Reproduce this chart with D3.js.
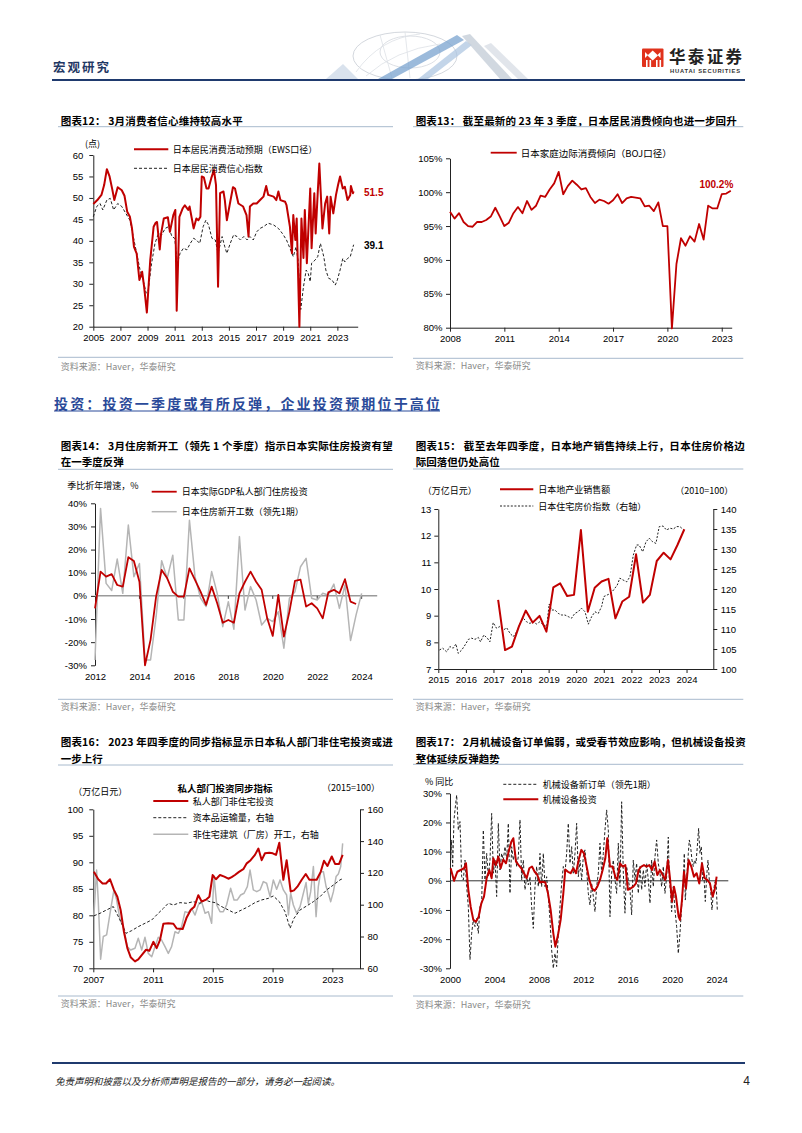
<!DOCTYPE html>
<html><head><meta charset="utf-8">
<script src="https://cdn.jsdelivr.net/npm/d3@7"></script>
<style>body{margin:0;background:#fff}svg{display:block}</style>
</head><body><svg id="page" width="802" height="1133"></svg>
<script>
// ---------------- DATA ----------------
// Chart 12: consumer confidence (monthly-ish samples) [year, value]
const ewsSeries = [[2005.0,48.6],[2005.3,49.5],[2005.6,50.7],[2005.8,53],[2006.0,56.7],[2006.2,55],[2006.4,52],[2006.55,49.5],[2006.8,52.5],[2007.1,51.8],[2007.3,50.5],[2007.5,46.8],[2007.7,45.6],[2007.85,43],[2008.0,38.6],[2008.2,37],[2008.4,30.9],[2008.6,32.8],[2008.75,29.3],[2008.95,23.3],[2009.2,35.5],[2009.45,43.3],[2009.6,44.2],[2009.7,44.4],[2009.9,38],[2010.0,41.7],[2010.2,45.2],[2010.5,45.5],[2010.65,42.1],[2010.9,46],[2011.05,47.2],[2011.15,23.7],[2011.35,45.6],[2011.6,47.6],[2011.75,48.3],[2012.0,47.2],[2012.1,48],[2012.4,42.9],[2012.6,45.2],[2012.75,44.8],[2012.9,45.6],[2013.0,55],[2013.15,54.8],[2013.35,52.2],[2013.5,52.2],[2013.7,54.6],[2013.9,56.5],[2014.05,53],[2014.2,29.3],[2014.35,51.1],[2014.6,51.5],[2014.7,49.5],[2014.85,44.8],[2015.1,49.1],[2015.3,52.5],[2015.45,52.2],[2015.7,48.7],[2016.05,48],[2016.3,46],[2016.45,41],[2016.55,48],[2016.8,48.7],[2017.05,48.7],[2017.3,49.5],[2017.55,50.3],[2017.75,52.8],[2017.9,50.7],[2018.3,50.3],[2018.5,49.5],[2018.65,51.5],[2018.8,49.5],[2019.15,49.1],[2019.25,48.3],[2019.5,43.3],[2019.65,37.1],[2019.75,46],[2019.9,40.2],[2020.0,45.2],[2020.2,20],[2020.35,45.2],[2020.5,36],[2020.6,47.2],[2020.75,34.8],[2021.0,52.2],[2021.1,38.3],[2021.3,51.1],[2021.4,41.7],[2021.55,51.1],[2021.67,58],[2021.9,42.9],[2022.1,48.7],[2022.25,50.3],[2022.4,41.7],[2022.5,50.3],[2022.7,46.4],[2022.9,50.7],[2023.05,53],[2023.2,55],[2023.4,52.2],[2023.55,52.6],[2023.75,49.5],[2023.95,50.7],[2024.0,52.8],[2024.15,51.1],[2024.2,51.5]];
const confSeries = [[2005.0,45.6],[2005.25,48],[2005.5,48.7],[2005.7,47.2],[2006.0,49.5],[2006.25,49.9],[2006.5,47.2],[2006.8,48.7],[2007.1,48],[2007.4,46.4],[2007.7,44.8],[2008.0,40.2],[2008.25,36.3],[2008.45,33.2],[2008.7,30.5],[2008.9,27.8],[2009.05,28.5],[2009.3,34.8],[2009.55,39.4],[2009.8,41.7],[2010.05,41.4],[2010.3,42.9],[2010.55,43.3],[2010.8,41],[2011.0,40.6],[2011.2,34.8],[2011.4,37.1],[2011.65,38.3],[2011.9,37.9],[2012.15,39.4],[2012.4,40.6],[2012.6,40.2],[2012.85,39.4],[2013.1,43.3],[2013.3,44.8],[2013.5,43.7],[2013.75,40.6],[2014.0,40.2],[2014.2,37.1],[2014.5,41],[2014.7,38.6],[2014.85,37.1],[2015.1,39.4],[2015.35,41.4],[2015.6,41],[2015.85,40.2],[2016.1,41],[2016.35,40.2],[2016.55,41],[2016.8,40.2],[2017.05,42.1],[2017.3,42.9],[2017.55,43.3],[2017.9,44.1],[2018.3,43.7],[2018.65,42.9],[2018.95,41.7],[2019.25,40.2],[2019.5,38.3],[2019.75,36.3],[2019.95,38.6],[2020.1,35.5],[2020.3,24],[2020.5,29.3],[2020.7,33.2],[2020.85,32.4],[2021.0,30.5],[2021.1,34.8],[2021.35,35.5],[2021.55,36.3],[2021.75,39.4],[2022.0,36.3],[2022.15,33.2],[2022.35,31.3],[2022.6,30.9],[2022.85,29.7],[2023.0,30.9],[2023.2,33.2],[2023.4,35.9],[2023.55,35.1],[2023.75,35.9],[2023.95,36.3],[2024.2,39.1]];
const c12YTicks = [20,25,30,35,40,45,50,55,60];
const c12XTicks = [2005,2007,2009,2011,2013,2015,2017,2019,2021,2023];

// Chart 13: BOJ marginal propensity to consume, quarterly from 2008Q1
const bojStart = 2008;
const bojValues = [97.1,96.1,96.9,95.6, 95.0,94.9,95.6,95.6, 95.9,96.4,97.7,96.4, 95.0,95.5,96.9,97.8, 96.9,98.7,97.4,98.0, 99.5,99.3,100.4,101.3, 103.0,99.7,100.9,101.7, 101.1,100.4,100.6,99.3, 98.4,98.9,98.7,98.3, 98.8,99.7,98.4,99.1, 99.3,99.2,99.1,97.9, 98.0,97.2,98.5,95.0, 95.0,79.9,89.4,93.2, 92.1,93.5,92.7,95.3, 93.0,98.0,97.6,97.6, 99.7,99.8,100.2];
const c13YTicks = [80,85,90,95,100,105];
const c13XTicks = [2008,2011,2014,2017,2020,2023];

// Chart 14: residential investment vs housing starts, quarterly from 2012Q1
const resStart = 2012;
const resInvest = [-5.4,10.5,8.3,9.4, 4.7,4.0,16.7,15.1, 6.1,-30.0,-19.0,-0.3, 11.2,7.6,1.8,-0.3, -0.3,11.9,6.9,1.8, -3.9,4.0,-3.2,-11.6, -10.4,-11.6,1.1,6.1, 10.5,6.1,2.6,-9.7, -17.3,0.4,-17.6,-6.8, 6.5,7.0,-4.6,-3.2, -5.4,-9.7,1.5,2.6, 1.1,7.2,-2.5,-3.5];
const housingStarts = [-27.7,37.8,5.4,2.3, 15.9,1.1,30.6,8.3, 14.0,-27.7,-27.7,-9.0, 15.2,7.6,17.6,-10.4, -10.4,32.7,8.3,-1.0, -4.6,10.5,1.1,-13.3, -2.5,-14.4,25.6,-6.1, 4.0,-1.8,-12.6,-9.7, -11.1,-6.8,-22.6,-1.0, 1.8,12.6,16.2,-1.0, -1.8,1.1,0.4,5.1, -5.4,4.7,-19.3,-8.2, 1.1];
const c14YTicks = [-30,-20,-10,0,10,20,30,40];
const c14XTicks = [2012,2014,2016,2018,2020,2022,2024];

// Chart 15: real estate sales (quarterly from 2017Q1) and house price index
const salesStart = 2017.17;
const salesValues = [9.59,7.71,7.84,8.59, 9.19,8.74,8.99,8.40, 10.06,10.21,9.74,9.78, 12.21,9.15,10.05,10.28, 10.38,8.90,9.53,9.71, 11.30,9.49,9.78,11.05, 11.36,11.11,11.65,12.24];
const hpiSeries = [[2015.04,104.75],[2015.16,105.2],[2015.30,104.3],[2015.42,105.6],[2015.54,105.2],[2015.64,106.25],[2015.72,103.9],[2015.85,104.75],[2015.97,106],[2016.09,107.4],[2016.21,107.7],[2016.33,107.4],[2016.45,107.9],[2016.53,106.8],[2016.65,108.5],[2016.78,107.7],[2016.87,106.8],[2016.99,111.6],[2017.11,110.2],[2017.23,110.6],[2017.36,109.75],[2017.48,110.3],[2017.60,108.9],[2017.72,108.1],[2017.84,109.3],[2017.96,111.4],[2018.08,112.7],[2018.20,111.8],[2018.32,111.4],[2018.44,111.8],[2018.56,111.25],[2018.68,111.8],[2018.81,111],[2018.93,110.6],[2019.02,116.25],[2019.11,114.75],[2019.23,114.75],[2019.35,113.9],[2019.47,113.5],[2019.59,113.5],[2019.71,113.1],[2019.83,112.7],[2019.95,113.9],[2020.07,114.3],[2020.19,115.2],[2020.32,114.3],[2020.44,111.2],[2020.56,113.1],[2020.68,114.3],[2020.80,113.9],[2020.92,115.6],[2021.00,118.1],[2021.12,118.5],[2021.25,118.9],[2021.37,119.9],[2021.49,121],[2021.58,122.7],[2021.70,122.25],[2021.83,121.8],[2021.95,123.1],[2022.07,128.5],[2022.19,131],[2022.28,131],[2022.41,129.3],[2022.53,131.8],[2022.65,132.7],[2022.77,131.8],[2022.89,131.4],[2023.01,135.6],[2023.15,135.75],[2023.27,134.75],[2023.40,135.2],[2023.52,135],[2023.64,135.6],[2023.76,135.6],[2023.90,134.75]];
const c15YLTicks = [7,8,9,10,11,12,13];
const c15YRTicks = [100,105,110,115,120,125,130,135,140];
const c15XTicks = [2015,2016,2017,2018,2019,2020,2021,2022,2023,2024];

// Chart 16: non-residential investment coincident indicators
const nonResInvest = [[2007.04,88.2],[2007.33,86.8],[2007.62,86.0],[2007.85,86.0],[2008.12,86.8],[2008.38,84.8],[2008.61,83.5],[2008.83,81.0],[2009.05,76.9],[2009.28,73.8],[2009.50,72.1],[2009.79,71.3],[2010.01,71.7],[2010.24,72.5],[2010.53,73.5],[2010.75,73.3],[2011.02,75.0],[2011.24,73.8],[2011.46,75.3],[2011.69,78.4],[2012.02,78.5],[2012.36,78.4],[2012.58,77.5],[2012.98,77.4],[2013.25,79.6],[2013.52,81.0],[2013.76,81.6],[2014.03,83.8],[2014.25,82.6],[2014.52,82.9],[2014.77,83.5],[2014.99,87.6],[2015.21,86.8],[2015.48,87.6],[2015.77,87.3],[2016.04,86.9],[2016.26,87.2],[2016.48,87.6],[2016.75,88.2],[2017.04,88.7],[2017.27,89.8],[2017.53,90.4],[2017.82,91.4],[2018.05,92.6],[2018.27,90.4],[2018.49,91.7],[2018.78,91.8],[2019.01,91.7],[2019.23,91.4],[2019.45,93.7],[2019.72,86.7],[2019.94,90.4],[2020.21,84.5],[2020.43,84.7],[2020.66,85.4],[2020.95,86.7],[2021.22,87.8],[2021.46,86.7],[2021.73,86.7],[2021.95,86.7],[2022.22,88.2],[2022.44,90.3],[2022.67,89.3],[2022.96,91.1],[2023.18,89.7],[2023.45,89.7],[2023.69,91.4]];
const capShipments = [[2007.04,93],[2007.45,94.6],[2007.89,96.7],[2008.34,98.8],[2008.79,90.4],[2009.19,82],[2009.57,83.7],[2010.01,86.2],[2010.46,88.3],[2010.91,90.4],[2011.35,94.6],[2011.69,97.7],[2012.02,100.9],[2012.36,99.8],[2012.80,101.3],[2013.25,100.9],[2013.69,101.9],[2014.14,100.9],[2014.48,103],[2014.81,101.9],[2015.15,101.3],[2015.59,98.8],[2016.04,96.7],[2016.48,94.6],[2016.93,96.7],[2017.38,98.8],[2017.82,101.3],[2018.27,103],[2018.72,104],[2019.05,105.5],[2019.45,101.9],[2019.83,95.6],[2020.17,85.2],[2020.43,91.4],[2020.84,96.7],[2021.28,99.2],[2021.73,101.9],[2022.18,105.1],[2022.62,109.3],[2023.07,112.4],[2023.51,115.6],[2023.74,116.6]];
const factoryStarts = [[2007.04,93.4],[2007.22,121.8],[2007.33,103],[2007.49,65.7],[2007.67,80],[2007.89,81],[2008.12,94.6],[2008.38,109.3],[2008.56,103],[2008.79,90.4],[2009.01,86.2],[2009.28,73.6],[2009.50,71.5],[2009.79,72.6],[2010.01,78.9],[2010.24,71.5],[2010.46,79.5],[2010.68,69.4],[2010.91,67.3],[2011.13,73.6],[2011.35,79.5],[2011.57,77.8],[2011.80,73.6],[2012.02,69.4],[2012.24,73.6],[2012.47,83],[2012.69,82],[2012.91,86.2],[2013.14,95.6],[2013.36,95],[2013.58,97.7],[2013.81,93.5],[2014.03,99.8],[2014.25,101.9],[2014.48,94.6],[2014.70,95.6],[2014.92,88.3],[2015.08,118],[2015.26,99.8],[2015.48,95.6],[2015.70,95.6],[2015.92,99.8],[2016.19,110.3],[2016.42,103],[2016.64,103],[2016.86,106.1],[2017.09,107.2],[2017.31,111.4],[2017.49,121.8],[2017.71,109.3],[2017.94,108.2],[2018.16,109.3],[2018.38,114.5],[2018.60,113.5],[2018.83,105.1],[2019.05,115.6],[2019.27,109.7],[2019.50,115.6],[2019.72,109.3],[2019.94,106.1],[2020.06,93.5],[2020.21,107.2],[2020.39,99.8],[2020.61,94.6],[2020.84,98.8],[2021.06,107.2],[2021.24,113.9],[2021.39,100.9],[2021.55,108.2],[2021.73,124],[2021.91,92.5],[2022.06,111.4],[2022.22,120.8],[2022.40,120.8],[2022.58,111.4],[2022.73,107.2],[2022.89,101.9],[2023.07,108.2],[2023.25,117.7],[2023.40,119.3],[2023.56,124],[2023.69,138.6]];
const c16YLTicks = [70,75,80,85,90,95,100];
const c16YRTicks = [60,80,100,120,140,160];
const c16XTicks = [2007,2011,2015,2019,2023];

// Chart 17: machinery orders vs machinery investment (y/y %)
const machInvest = [[2000.06,4.3],[2000.36,0],[2000.66,3.1],[2000.96,3.7],[2001.26,4.3],[2001.44,6.0],[2001.65,-3.1],[2001.86,-8.9],[2002.10,-13.4],[2002.34,-14],[2002.58,-12.3],[2002.82,-7.7],[2003.06,-5.4],[2003.30,0.9],[2003.54,3.7],[2003.75,0.9],[2003.90,7.7],[2004.14,5.4],[2004.35,8.3],[2004.56,4.3],[2004.80,7.3],[2005.04,6.0],[2005.28,10],[2005.52,13.4],[2005.70,14.6],[2005.94,6.6],[2006.18,5.4],[2006.42,4.3],[2006.66,2.6],[2006.90,0.9],[2007.14,4.3],[2007.38,4.9],[2007.62,3.1],[2007.86,2],[2008.10,-0.6],[2008.34,-0.3],[2008.58,-0.6],[2008.82,-4.3],[2009.06,-10],[2009.30,-18],[2009.48,-22.6],[2009.72,-18.6],[2009.96,-13.4],[2010.20,-4.3],[2010.38,3.9],[2010.62,3.1],[2010.86,2.6],[2011.10,4.3],[2011.34,2.6],[2011.58,7.1],[2011.82,10.6],[2012.06,9.4],[2012.30,4.9],[2012.54,0.3],[2012.78,-2.6],[2013.02,-3.4],[2013.26,-2],[2013.50,0.3],[2013.74,3.7],[2013.98,7.7],[2014.16,14.6],[2014.40,4.9],[2014.64,4.9],[2014.88,1.4],[2015.06,0.3],[2015.30,6.0],[2015.54,4.9],[2015.78,5.4],[2016.02,-3.1],[2016.26,-2.6],[2016.50,-2],[2016.74,-0.9],[2016.98,3.7],[2017.22,4.9],[2017.46,5.4],[2017.70,4.9],[2017.94,5.4],[2018.18,3.7],[2018.42,6.6],[2018.66,2],[2018.90,3.7],[2019.14,2],[2019.38,0.3],[2019.62,7.1],[2019.80,0.9],[2019.98,-7.1],[2020.16,-2],[2020.34,-5.4],[2020.58,-12.3],[2020.70,-13.4],[2020.88,-6.6],[2021.06,3.1],[2021.24,-2.6],[2021.48,7.1],[2021.72,4.9],[2021.96,1.4],[2022.20,2.6],[2022.44,-0.9],[2022.68,6.0],[2022.92,0.9],[2023.16,0.3],[2023.40,-0.9],[2023.64,-5.4],[2023.82,-3.1],[2024.00,1.4]];
const machOrders = [[2000.06,7.1],[2000.15,14],[2000.24,4.9],[2000.36,20.9],[2000.45,24.3],[2000.60,29.4],[2000.75,17.4],[2000.90,20.3],[2001.05,1.4],[2001.20,0.3],[2001.35,7.1],[2001.50,-2],[2001.65,-8.9],[2001.80,-27],[2001.95,-18],[2002.10,-13.4],[2002.25,-15.7],[2002.40,-12.9],[2002.55,-18],[2002.70,-8.9],[2002.85,-7.7],[2003.00,17.4],[2003.15,0.3],[2003.30,9.4],[2003.45,1.4],[2003.60,7.1],[2003.75,23.1],[2003.90,2.6],[2004.05,7.1],[2004.20,-5.4],[2004.35,19.7],[2004.50,3.7],[2004.65,9.4],[2004.80,7.1],[2004.95,11.7],[2005.10,7.1],[2005.25,19.7],[2005.40,-4.3],[2005.55,11.7],[2005.70,7.1],[2005.85,10],[2006.00,4.9],[2006.15,8.3],[2006.30,20.9],[2006.45,0.3],[2006.60,7.1],[2006.75,-3.1],[2006.90,1.4],[2007.05,-1.4],[2007.20,1.4],[2007.35,-8.9],[2007.50,-16.3],[2007.65,-2],[2007.80,4.9],[2007.95,-2],[2008.10,9.4],[2008.25,-2],[2008.40,9.4],[2008.55,-2],[2008.70,1.4],[2008.85,-5.4],[2009.00,-13.4],[2009.15,-23.7],[2009.30,-30],[2009.45,-24.9],[2009.60,-29.4],[2009.75,-18],[2009.90,-8.9],[2010.05,-0.9],[2010.20,4.9],[2010.35,2.6],[2010.50,9.4],[2010.65,19.7],[2010.80,6],[2010.95,11.7],[2011.10,2.6],[2011.25,9.4],[2011.40,19.7],[2011.55,1.4],[2011.70,7.1],[2011.85,0.3],[2012.00,8.3],[2012.15,10.6],[2012.30,3.7],[2012.45,-4.3],[2012.60,-8.3],[2012.75,-0.9],[2012.90,-5.4],[2013.05,-10.6],[2013.20,-2],[2013.35,2.6],[2013.50,12.9],[2013.65,2.6],[2013.80,9.4],[2013.95,17.4],[2014.10,24.3],[2014.25,17.4],[2014.40,-12.3],[2014.55,2.6],[2014.70,7.1],[2014.85,0.3],[2015.00,-4.3],[2015.15,12.9],[2015.30,-2],[2015.45,27.1],[2015.60,2.6],[2015.75,-11.1],[2015.90,4.9],[2016.05,0.3],[2016.20,-3.1],[2016.35,-11.7],[2016.50,7.1],[2016.65,0.3],[2016.80,6],[2016.95,-4.3],[2017.10,4.9],[2017.25,-3.1],[2017.40,3.7],[2017.55,-2],[2017.70,6],[2017.85,0.3],[2018.00,-7.7],[2018.15,7.1],[2018.30,-2],[2018.45,8.3],[2018.60,14],[2018.75,6],[2018.90,2.6],[2019.05,-2],[2019.20,4.9],[2019.35,-4.3],[2019.50,1.4],[2019.65,15],[2019.74,0.3],[2019.86,-4.3],[2019.95,-10.6],[2020.10,-2],[2020.25,-10],[2020.40,-15.7],[2020.55,-24.9],[2020.70,-18],[2020.85,-8.9],[2021.00,0.3],[2021.09,9.4],[2021.18,-6.6],[2021.30,0.3],[2021.45,9.4],[2021.54,14],[2021.66,11.7],[2021.78,7.1],[2021.90,4.9],[2022.02,7.1],[2022.14,6],[2022.26,11.7],[2022.38,18],[2022.50,9.4],[2022.62,11.7],[2022.74,0.3],[2022.86,1.4],[2022.98,-7.1],[2023.10,1.4],[2023.22,7.1],[2023.34,0.3],[2023.46,-3.1],[2023.58,-10],[2023.70,-4.3],[2023.82,-0.9],[2023.94,0.3],[2024.06,-10]];
const c17YTicks = [-30,-20,-10,0,10,20,30];
const c17XTicks = [2000,2004,2008,2012,2016,2020,2024];

// ---------------- DRAWING ----------------
const NUM = "'Liberation Sans', Arial, Helvetica, sans-serif";
const CJK = "'Noto Sans CJK SC', 'Noto Sans', sans-serif";
const RED = "#C00000";
const GRAY = "#b5b5b5";
const RULE = "#a8bacd";
const svg = d3.select("#page");
svg.append("rect").attr("width", 802).attr("height", 1133).attr("fill", "#fff");

function T(x, y, s, o = {}) {
  const t = svg.append("text").attr("x", x).attr("y", y).text(s)
    .attr("font-family", o.family || CJK).attr("font-size", o.size || 9)
    .attr("fill", o.fill || "#000").attr("dominant-baseline", "central");
  if (o.weight) t.attr("font-weight", o.weight);
  if (o.anchor) t.attr("text-anchor", o.anchor);
  if (o.len) t.attr("textLength", o.len).attr("lengthAdjust", o.adj || "spacing");
  if (o.style) t.attr("font-style", o.style);
  return t;
}
function hline(x1, x2, y, color, w, dash) {
  const l = svg.append("line").attr("x1", x1).attr("x2", x2).attr("y1", y).attr("y2", y)
    .attr("stroke", color).attr("stroke-width", w || 1);
  if (dash) l.attr("stroke-dasharray", dash);
  return l;
}
function series(data, x, y, st) {
  svg.append("path").datum(data).attr("fill", "none")
    .attr("stroke", st.color).attr("stroke-width", st.width || 1)
    .attr("stroke-dasharray", st.dash || null).attr("stroke-linejoin", "round")
    .attr("d", d3.line().x(d => x(d[0])).y(d => y(d[1])));
}
function styleAxis(g, size) {
  g.attr("font-family", null).attr("font-size", null);
  g.select(".domain").attr("stroke", "#222").attr("stroke-width", 1);
  g.selectAll(".tick line").attr("stroke", "#222");
  g.selectAll(".tick text").attr("font-family", NUM).attr("font-size", size || 9.5).attr("fill", "#000");
}
function quarterly(start, vals) { return vals.map((v, i) => [start + i * 0.25, v]); }
const fmtInt = d3.format("d");
const fmtPct = d => d + "%";

// ----- header -----
T(53, 66, "宏观研究", {size: 12.5, weight: 700, fill: "#1f3864", len: 56});
// decorative graphics
const deco = svg.append("g");
deco.append("polygon").attr("points", "326,79 343,64 358,79").attr("fill", "#cfdbe8").attr("opacity", 0.8);
deco.append("ellipse").attr("cx", 405).attr("cy", 56).attr("rx", 52).attr("ry", 24).attr("fill", "none").attr("stroke", "#d4d8de").attr("stroke-width", 1);
deco.append("ellipse").attr("cx", 410).attr("cy", 52).attr("rx", 30).attr("ry", 16).attr("fill", "none").attr("stroke", "#dde0e5").attr("stroke-width", 1);
deco.append("path").attr("d", "M356,72 Q380,38 420,34 M366,76 Q395,50 440,44 M380,35 L392,78 M405,32 L410,78").attr("fill", "none").attr("stroke", "#dde1e6").attr("stroke-width", 0.8);
deco.append("polygon").attr("points", "378,79 392,79 464,40 457,35").attr("fill", "#7aa3cf").attr("opacity", 0.75);
deco.append("polygon").attr("points", "418,79 428,79 472,45 466,41").attr("fill", "#a9c3df").attr("opacity", 0.7);
deco.append("polygon").attr("points", "462,36 470,34 512,79 500,79").attr("fill", "#c6ced8").attr("opacity", 0.8);
deco.append("polygon").attr("points", "484,46 491,43 528,79 518,79").attr("fill", "#dadfe6").attr("opacity", 0.8);
// logo
const logo = svg.append("g");
logo.append("rect").attr("x", 642).attr("y", 48.5).attr("width", 21.5).attr("height", 18.5).attr("fill", "#e0321c").attr("rx", 1);
logo.append("polygon").attr("points", "652.7,50.5 658,55.5 652.7,60.5 647.4,55.5").attr("fill", "#fff");
logo.append("polygon").attr("points", "645,52 648,55 645,58").attr("fill", "#fff");
logo.append("polygon").attr("points", "660.5,52 657.5,55 660.5,58").attr("fill", "#fff");
[646, 649.5, 656, 659.5].forEach(x => logo.append("rect").attr("x", x).attr("y", 60).attr("width", 1.6).attr("height", 7).attr("fill", "#fff"));
T(669, 56, "华泰证券", {size: 16.5, weight: 700, fill: "#222", len: 73});
T(670, 70.5, "HUATAI SECURITIES", {family: NUM, size: 5.8, weight: 700, fill: "#333", len: 70});
hline(52, 745, 80, "#1f3a6e", 2);

// ----- footer -----
hline(52, 745, 1063, "#1f3a6e", 2);
T(55, 1081, "免责声明和披露以及分析师声明是报告的一部分，请务必一起阅读。", {size: 9.5, style: "italic", fill: "#222"});
T(750, 1081, "4", {family: NUM, size: 12, anchor: "end", fill: "#222"});

// ----- section heading -----
T(54, 402.7, "投资：投资一季度或有所反弹，企业投资预期位于高位", {size: 14, weight: 700, fill: "#2a4a99", len: 386});
hline(54, 440, 411, "#2a4a99", 1);

// helpers for frames
function frame(xL, xR, titleY, lines, ruleY, srcRuleY, srcY, widths) {
  lines.forEach((s, i) => T(xL + 2.7, titleY + i * 16.7, s, {size: 10.5, weight: 700, len: widths[i]}));
  hline(xL, xR, ruleY, RULE, 1);
  hline(xL, xR, srcRuleY, RULE, 1);
  T(xL + 2.7, srcY, "资料来源：Haver，华泰研究", {size: 9, fill: "#8a8a8a"});
}

// ===== Chart 12 =====
frame(58, 393, 120.5, ["图表12： 3月消费者信心维持较高水平"], 126.7, 357.3, 366.5, [182]);
{
  const x = d3.scaleLinear().domain([2005, 2024.5]).range([93.3, 357.7]);
  const y = d3.scaleLinear().domain([20, 60]).range([326.7, 155]);
  svg.append("g").attr("transform", "translate(93.3,0)")
    .call(d3.axisLeft(y).tickValues(c12YTicks).tickSize(4).tickSizeOuter(0).tickPadding(6).tickFormat(fmtInt)).call(styleAxis);
  svg.append("g").attr("transform", "translate(0,326.7)")
    .call(d3.axisBottom(x).tickValues(c12XTicks).tickSize(4).tickSizeOuter(0).tickPadding(3.5).tickFormat(fmtInt)).call(styleAxis);
  series(confSeries, x, y, {color: "#222", width: 1, dash: "3,2"});
  series(ewsSeries, x, y, {color: RED, width: 2});
  T(85, 143.5, "(点)", {size: 9});
  hline(134, 168.3, 149.3, RED, 2);
  T(172.7, 149.3, "日本居民消费活动预期（EWS口径）", {size: 9});
  hline(134, 168.3, 168.3, "#222", 1, "3,2");
  T(172.7, 168.3, "日本居民消费信心指数", {size: 9});
  const lastE = ewsSeries[ewsSeries.length - 1], lastC = confSeries[confSeries.length - 1];
  T(364, 192.3, String(lastE[1]), {family: NUM, size: 10, weight: 700, fill: RED});
  T(364, 245.7, String(lastC[1]), {family: NUM, size: 10, weight: 700});
}

// ===== Chart 13 =====
frame(413, 743.3, 120.7, ["图表13： 截至最新的 23 年 3 季度，日本居民消费倾向也进一步回升"], 126.7, 358.3, 365.7, [321]);
{
  const x = d3.scaleLinear().domain([2008, 2023.55]).range([450, 731.7]);
  const y = d3.scaleLinear().domain([80, 105]).range([327.7, 158.3]);
  svg.append("g").attr("transform", "translate(450,0)")
    .call(d3.axisLeft(y).tickValues(c13YTicks).tickSize(4).tickSizeOuter(0).tickPadding(3.5).tickFormat(fmtPct)).call(styleAxis);
  svg.append("g").attr("transform", "translate(0,327.7)")
    .call(d3.axisBottom(x).tickValues(c13XTicks).tickSize(4).tickSizeOuter(0).tickPadding(3.5).tickFormat(fmtInt)).call(styleAxis);
  const data = quarterly(bojStart, bojValues);
  series(data, x, y, {color: RED, width: 1.8});
  hline(490.7, 516.7, 152.7, RED, 1.8);
  T(520.7, 152.7, "日本家庭边际消费倾向（BOJ口径）", {size: 9.5});
  T(733.3, 184.3, bojValues[bojValues.length - 1].toFixed(1) + "%", {family: NUM, size: 10, weight: 700, fill: RED, anchor: "end"});
}

// ===== Chart 14 =====
frame(58, 393, 445, ["图表14： 3月住房新开工（领先 1 个季度）指示日本实际住房投资有望", "在一季度反弹"], 469.3, 699.3, 706, [332, null]);
{
  const x = d3.scaleLinear().domain([2012, 2024.7]).range([95, 377.2]);
  const y = d3.scaleLinear().domain([-30, 40]).range([665.3, 503.3]);
  svg.append("g").attr("transform", "translate(95,0)")
    .call(d3.axisLeft(y).tickValues(c14YTicks).tickSize(4).tickSizeOuter(0).tickPadding(4).tickFormat(fmtPct)).call(styleAxis);
  const gx = svg.append("g").attr("transform", "translate(0,665.3)")
    .call(d3.axisBottom(x).tickValues(c14XTicks).tickSize(0).tickPadding(7.5).tickFormat(fmtInt)).call(styleAxis);
  gx.select(".domain").remove();
  hline(95, 377.2, y(0), "#9a9a9a", 1.5);
  c14XTicks.slice(1).forEach(t => svg.append("line").attr("x1", x(t)).attr("x2", x(t)).attr("y1", y(0)).attr("y2", y(0) + 3).attr("stroke", "#333"));
  series(quarterly(resStart, housingStarts), x, y, {color: GRAY, width: 1.5});
  series(quarterly(resStart, resInvest), x, y, {color: RED, width: 1.8});
  T(67.3, 485, "季比折年增速，%", {size: 9});
  hline(151.7, 176.7, 491.7, RED, 1.8);
  T(181.7, 491.7, "日本实际GDP私人部门住房投资", {size: 9});
  hline(151.7, 176.7, 511.7, GRAY, 1.5);
  T(181.7, 511.7, "日本住房新开工数（领先1期）", {size: 9});
}

// ===== Chart 15 =====
frame(413, 743.3, 445, ["图表15： 截至去年四季度，日本地产销售持续上行，日本住房价格边", "际回落但仍处高位"], 469, 699.3, 706, [329, null]);
{
  const x = d3.scaleLinear().domain([2015, 2024.97]).range([438.3, 713.3]);
  const yL = d3.scaleLinear().domain([7, 13]).range([669, 509]);
  const yR = d3.scaleLinear().domain([100, 140]).range([669, 509]);
  svg.append("g").attr("transform", "translate(438.3,0)")
    .call(d3.axisLeft(yL).tickValues(c15YLTicks).tickSize(4).tickSizeOuter(0).tickPadding(3).tickFormat(fmtInt)).call(styleAxis);
  svg.append("g").attr("transform", "translate(713.3,0)")
    .call(d3.axisRight(yR).tickValues(c15YRTicks).tickSize(4).tickSizeOuter(0).tickPadding(3.5).tickFormat(fmtInt)).call(styleAxis);
  svg.append("g").attr("transform", "translate(0,669)")
    .call(d3.axisBottom(x).tickValues(c15XTicks).tickSize(4).tickSizeOuter(0).tickPadding(3.5).tickFormat(fmtInt)).call(styleAxis);
  series(hpiSeries, x, yR, {color: "#222", width: 1, dash: "2,1.6"});
  series(quarterly(salesStart, salesValues), x, yL, {color: RED, width: 2});
  T(422.7, 490, "（万亿日元）", {size: 9});
  T(733.3, 490, "（2010=100）", {size: 9, anchor: "end"});
  hline(500, 533.3, 489.3, RED, 2);
  T(538.3, 489.3, "日本地产业销售额", {size: 9});
  hline(500, 533.3, 506, "#222", 1, "2,1.6");
  T(538.3, 506, "日本住宅房价指数（右轴）", {size: 9});
}

// ===== Chart 16 =====
frame(58, 393, 741.7, ["图表16： 2023 年四季度的同步指标显示日本私人部门非住宅投资或进", "一步上行"], 765, 996, 1003.5, [332, null]);
{
  const x = d3.scaleLinear().domain([2007, 2024.85]).range([93.3, 360]);
  const yL = d3.scaleLinear().domain([70, 100]).range([968.3, 809.3]);
  const yR = d3.scaleLinear().domain([60, 160]).range([968.3, 809.3]);
  svg.append("g").attr("transform", "translate(93.3,0)")
    .call(d3.axisLeft(yL).tickValues(c16YLTicks).tickSize(4).tickSizeOuter(0).tickPadding(6).tickFormat(fmtInt)).call(styleAxis);
  svg.append("g").attr("transform", "translate(360,0)")
    .call(d3.axisRight(yR).tickValues(c16YRTicks).tickSize(4).tickSizeOuter(0).tickPadding(3.5).tickFormat(fmtInt)).call(styleAxis);
  svg.append("g").attr("transform", "translate(0,968.3)")
    .call(d3.axisBottom(x).tickValues(c16XTicks).tickSize(4).tickSizeOuter(0).tickPadding(3.5).tickFormat(fmtInt)).call(styleAxis);
  series(factoryStarts, x, yR, {color: GRAY, width: 1.5});
  series(capShipments, x, yR, {color: "#222", width: 1, dash: "3,2"});
  series(nonResInvest, x, yL, {color: RED, width: 2});
  T(225, 788.3, "私人部门投资同步指标", {size: 9.5, weight: 700, anchor: "middle"});
  T(73.3, 791, "（万亿日元）", {size: 9});
  T(380, 787.7, "（2015=100）", {size: 9, anchor: "end"});
  hline(153.3, 188.3, 801, RED, 2);
  T(192.7, 801, "私人部门非住宅投资", {size: 9});
  hline(153.3, 188.3, 817.7, "#222", 1, "3,2");
  T(192.7, 817.7, "资本品运输量，右轴", {size: 9});
  hline(153.3, 188.3, 834.3, GRAY, 1.5);
  T(192.7, 834.3, "非住宅建筑（厂房）开工，右轴", {size: 9});
}

// ===== Chart 17 =====
frame(413, 743.3, 741.7, ["图表17： 2月机械设备订单偏弱，或受春节效应影响，但机械设备投资", "整体延续反弹趋势"], 764.3, 996, 1004, [330, null]);
{
  const x = d3.scaleLinear().domain([2000, 2025.05]).range([450, 728.3]);
  const y = d3.scaleLinear().domain([-30, 30]).range([968.3, 793.3]);
  svg.append("g").attr("transform", "translate(450,0)")
    .call(d3.axisLeft(y).tickValues(c17YTicks).tickSize(4).tickSizeOuter(0).tickPadding(4).tickFormat(fmtPct)).call(styleAxis);
  const gx = svg.append("g").attr("transform", "translate(0,968.3)")
    .call(d3.axisBottom(x).tickValues(c17XTicks).tickSize(0).tickPadding(7.5).tickFormat(fmtInt)).call(styleAxis);
  gx.select(".domain").remove();
  hline(450, 728.3, y(0), "#333", 1);
  series(machOrders, x, y, {color: "#222", width: 1, dash: "3,2"});
  series(machInvest, x, y, {color: RED, width: 2});
  T(425, 781, "% 同比", {size: 9});
  hline(503.3, 538.3, 784.3, "#222", 1, "3,2");
  T(542.7, 784.3, "机械设备新订单（领先1期）", {size: 9});
  hline(503.3, 538.3, 799.3, RED, 2);
  T(542.7, 799.3, "机械设备投资", {size: 9});
}
</script></body></html>
